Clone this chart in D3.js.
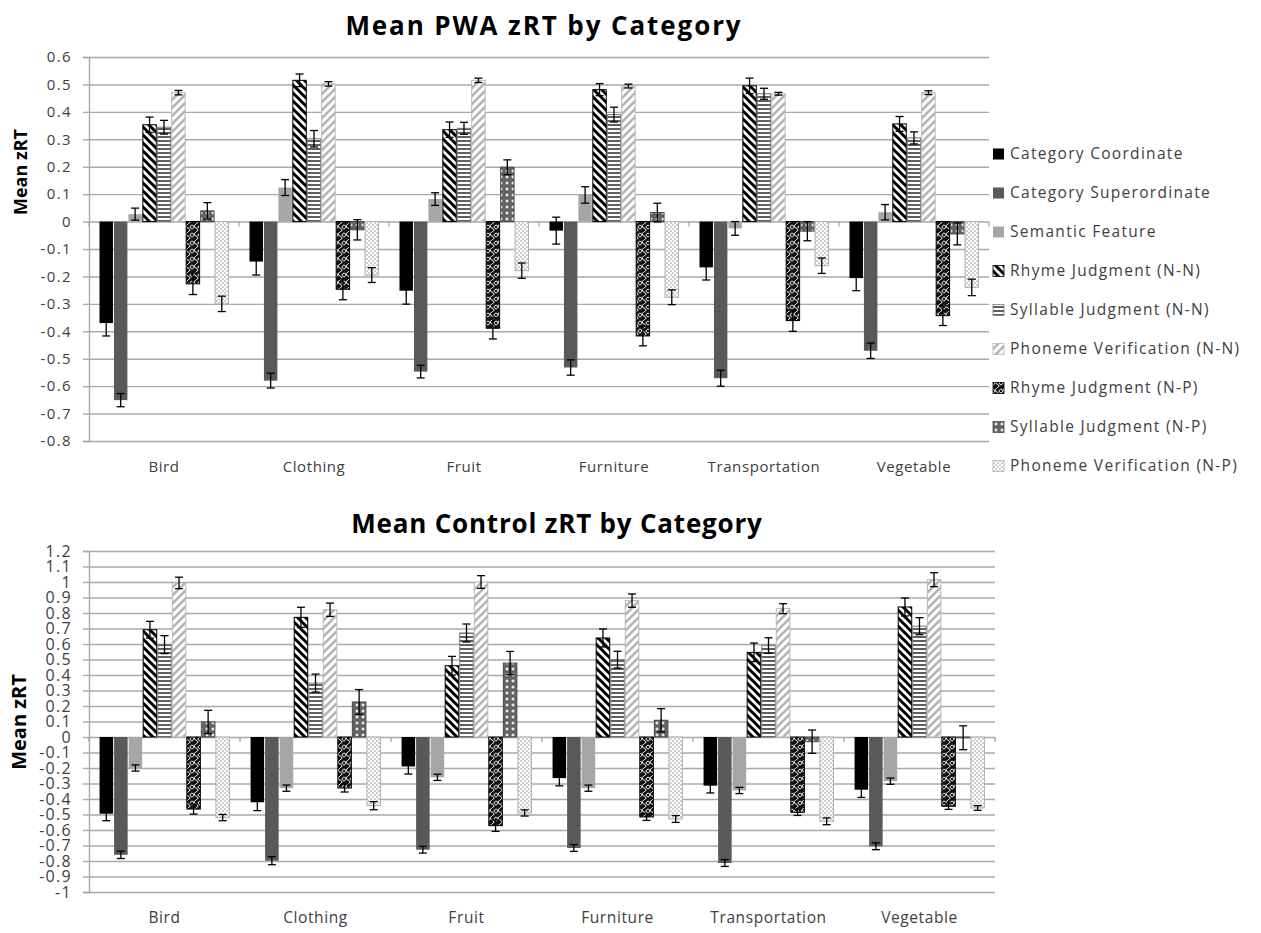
<!DOCTYPE html>
<html>
<head>
<meta charset="utf-8">
<script src="https://cdn.jsdelivr.net/npm/d3@7"></script>
<style>
  html, body { margin: 0; padding: 0; background: #ffffff; }
  svg { display: block; }
  text { font-family: "Open Sans", "Noto Sans", sans-serif; }
</style>
</head>
<body>
<svg id="chart" width="1261" height="933"></svg>
<script>
// Word categories on the x axis
const categories = ["Bird", "Clothing", "Fruit", "Furniture", "Transportation", "Vegetable"];

// Task conditions (one bar per condition within each category)
const seriesNames = [
  "Category Coordinate",
  "Category Superordinate",
  "Semantic Feature",
  "Rhyme Judgment (N-N)",
  "Syllable Judgment (N-N)",
  "Phoneme Verification (N-N)",
  "Rhyme Judgment (N-P)",
  "Syllable Judgment (N-P)",
  "Phoneme Verification (N-P)"
];

// PWA group: mean zRT, rows follow seriesNames, columns follow categories
const pwaMean = [
  [-0.370, -0.146, -0.252, -0.033, -0.167, -0.206],
  [-0.651, -0.580, -0.547, -0.532, -0.571, -0.471],
  [ 0.027,  0.124,  0.082,  0.097, -0.025,  0.034],
  [ 0.353,  0.515,  0.335,  0.481,  0.495,  0.356],
  [ 0.344,  0.302,  0.340,  0.390,  0.466,  0.305],
  [ 0.470,  0.502,  0.515,  0.494,  0.466,  0.470],
  [-0.227, -0.247, -0.389, -0.417, -0.361, -0.343],
  [ 0.039, -0.030,  0.198,  0.033, -0.035, -0.045],
  [-0.300, -0.195, -0.179, -0.276, -0.161, -0.240]
];
// PWA group: standard error of each mean
const pwaErr = [
  [0.047, 0.049, 0.049, 0.049, 0.046, 0.046],
  [0.024, 0.027, 0.023, 0.028, 0.029, 0.028],
  [0.022, 0.029, 0.023, 0.030, 0.025, 0.028],
  [0.028, 0.023, 0.028, 0.022, 0.028, 0.027],
  [0.025, 0.030, 0.022, 0.027, 0.020, 0.022],
  [0.008, 0.008, 0.008, 0.007, 0.005, 0.007],
  [0.039, 0.038, 0.039, 0.036, 0.039, 0.036],
  [0.030, 0.037, 0.027, 0.034, 0.035, 0.040],
  [0.028, 0.027, 0.028, 0.027, 0.028, 0.030]
];

// Control group: mean zRT
const ctrlMean = [
  [-0.495, -0.421, -0.190, -0.265, -0.314, -0.340],
  [-0.760, -0.798, -0.727, -0.716, -0.813, -0.705],
  [-0.200, -0.330, -0.260, -0.330, -0.345, -0.285],
  [ 0.692,  0.772,  0.460,  0.639,  0.546,  0.839],
  [ 0.596,  0.348,  0.671,  0.499,  0.590,  0.715],
  [ 0.994,  0.821,  1.000,  0.880,  0.828,  1.015],
  [-0.465, -0.329, -0.572, -0.516, -0.486, -0.447],
  [ 0.097,  0.226,  0.477,  0.108, -0.030, -0.005],
  [-0.520, -0.443, -0.490, -0.529, -0.544, -0.458]
];
// Control group: standard error of each mean
const ctrlErr = [
  [0.045, 0.054, 0.049, 0.050, 0.047, 0.050],
  [0.024, 0.026, 0.022, 0.022, 0.022, 0.022],
  [0.020, 0.020, 0.020, 0.020, 0.020, 0.020],
  [0.054, 0.065, 0.060, 0.058, 0.060, 0.058],
  [0.058, 0.058, 0.058, 0.054, 0.050, 0.055],
  [0.037, 0.043, 0.041, 0.043, 0.032, 0.045],
  [0.032, 0.026, 0.037, 0.022, 0.020, 0.020],
  [0.075, 0.080, 0.075, 0.075, 0.075, 0.077],
  [0.020, 0.026, 0.020, 0.022, 0.022, 0.015]
];

// Y-axis tick values for each panel
const pwaTicks  = [0.6, 0.5, 0.4, 0.3, 0.2, 0.1, 0, -0.1, -0.2, -0.3, -0.4, -0.5, -0.6, -0.7, -0.8];
const ctrlTicks = [1.2, 1.1, 1, 0.9, 0.8, 0.7, 0.6, 0.5, 0.4, 0.3, 0.2, 0.1, 0,
                   -0.1, -0.2, -0.3, -0.4, -0.5, -0.6, -0.7, -0.8, -0.9, -1];

const svg = d3.select("#chart");
const defs = svg.append("defs");

// ---- fill patterns for the nine conditions ----
function pat(id, w, h, build) {
  const p = defs.append("pattern").attr("id", id)
    .attr("patternUnits", "userSpaceOnUse").attr("width", w).attr("height", h);
  build(p);
}
pat("pRhymeNN", 8, 8, p => {
  p.append("rect").attr("width", 8).attr("height", 8).attr("fill", "#fff");
  p.append("path").attr("d", "M-2,6 L2,10 M0,0 L8,8 M6,-2 L10,2")
    .attr("stroke", "#000").attr("stroke-width", 3);
});
pat("pSyllNN", 4, 4, p => {
  p.append("rect").attr("width", 4).attr("height", 4).attr("fill", "#fff");
  p.append("rect").attr("width", 4).attr("height", 2).attr("fill", "#5f5f5f");
});
pat("pPhonNN", 8, 8, p => {
  p.append("rect").attr("width", 8).attr("height", 8).attr("fill", "#fff");
  p.append("path").attr("d", "M0,8 L8,0 M-2,2 L2,-2 M6,10 L10,6")
    .attr("stroke", "#b4b4b4").attr("stroke-width", 2.6);
});
pat("pRhymeNP", 8, 8, p => {
  p.append("rect").attr("width", 8).attr("height", 8).attr("fill", "#111");
  p.append("path").attr("d", "M0,1 Q4,3 0,5 M8,1 Q4,3 8,5 M4,4 Q8,6 4,8 M4,0 Q0,2 4,4")
    .attr("fill", "none").attr("stroke", "#f0f0f0").attr("stroke-width", 1);
});
pat("pSyllNP", 6, 6, p => {
  p.append("rect").attr("width", 6).attr("height", 6).attr("fill", "#666");
  p.append("circle").attr("cx", 3).attr("cy", 3).attr("r", 2)
    .attr("fill", "#e6e6e6").attr("stroke", "#333").attr("stroke-width", 0.6);
});
pat("pPhonNP", 4, 4, p => {
  p.append("rect").attr("width", 4).attr("height", 4).attr("fill", "#fff");
  p.append("circle").attr("cx", 1).attr("cy", 1).attr("r", 0.85).attr("fill", "#a0a0a0");
  p.append("circle").attr("cx", 3).attr("cy", 3).attr("r", 0.85).attr("fill", "#a0a0a0");
});

// fill + outline for each condition
const seriesStyle = [
  { fill: "#000000",         stroke: "none" },
  { fill: "#595959",         stroke: "none" },
  { fill: "#a6a6a6",         stroke: "none" },
  { fill: "url(#pRhymeNN)",  stroke: "#000000" },
  { fill: "url(#pSyllNN)",   stroke: "#7a7a7a" },
  { fill: "url(#pPhonNN)",   stroke: "#b8b8b8" },
  { fill: "url(#pRhymeNP)",  stroke: "#000000" },
  { fill: "url(#pSyllNP)",   stroke: "#4a4a4a" },
  { fill: "url(#pPhonNP)",   stroke: "#b0b0b0" }
];

const fmt = d => String(+d.toFixed(1));
const gridColor = "#a9a9a9";

function drawPanel(opt) {
  const g = svg.append("g");
  const x = d3.scaleBand().domain(categories)
    .range([opt.left, opt.right]).paddingInner(0.1333).paddingOuter(0.0667);
  const xs = d3.scaleBand().domain(d3.range(seriesNames.length))
    .range([0, x.bandwidth()]);
  const y = d3.scaleLinear().domain(opt.domain).range([opt.bottom, opt.top]);
  const width = opt.right - opt.left;

  // horizontal gridlines
  const grid = g.append("g").attr("transform", `translate(${opt.left},0)`)
    .call(d3.axisLeft(y).tickValues(opt.ticks).tickSize(-width).tickFormat(""));
  grid.select(".domain").remove();
  grid.selectAll("line").attr("stroke", gridColor).attr("stroke-width", 1.4);

  // y axis with labels
  const ya = g.append("g").attr("transform", `translate(${opt.left},0)`)
    .call(d3.axisLeft(y).tickValues(opt.ticks).tickSize(6).tickPadding(opt.tickPad).tickFormat(fmt));
  ya.select(".domain").attr("stroke", gridColor).attr("stroke-width", 1.4);
  ya.selectAll("line").attr("stroke", gridColor).attr("stroke-width", 1.4);
  ya.selectAll("text").attr("fill", "#404040")
    .style("font-size", opt.tickFont + "px").style("letter-spacing", opt.tickLS + "px")
    .style("font-family", "Open Sans");

  // category separator ticks hanging from the zero line
  const bounds = categories.map(c => x(c) - x.step() * x.paddingInner() / 2).concat([opt.right]);
  g.append("g").selectAll("line").data(bounds).join("line")
    .attr("x1", d => d).attr("x2", d => d)
    .attr("y1", y(0)).attr("y2", y(0) + 5)
    .attr("stroke", gridColor).attr("stroke-width", 1.4);

  // bars
  const cells = [];
  opt.mean.forEach((row, si) => row.forEach((v, ci) =>
    cells.push({ si, ci, v, e: opt.err[si][ci] })));
  g.append("g").selectAll("rect").data(cells).join("rect")
    .attr("x", d => x(categories[d.ci]) + xs(d.si) + 0.5)
    .attr("width", xs.bandwidth() - 1)
    .attr("y", d => Math.min(y(d.v), y(0)))
    .attr("height", d => Math.abs(y(d.v) - y(0)))
    .attr("fill", d => seriesStyle[d.si].fill)
    .attr("stroke", d => seriesStyle[d.si].stroke)
    .attr("stroke-width", 1);

  // error bars
  const eb = g.append("g").attr("stroke", "#000").attr("stroke-width", 1.3);
  const cx = d => x(categories[d.ci]) + xs(d.si) + xs.bandwidth() / 2;
  eb.selectAll("line.v").data(cells).join("line").attr("class", "v")
    .attr("x1", cx).attr("x2", cx)
    .attr("y1", d => y(d.v + d.e)).attr("y2", d => y(d.v - d.e));
  eb.selectAll("line.t").data(cells).join("line").attr("class", "t")
    .attr("x1", d => cx(d) - 4).attr("x2", d => cx(d) + 4)
    .attr("y1", d => y(d.v + d.e)).attr("y2", d => y(d.v + d.e));
  eb.selectAll("line.b").data(cells).join("line").attr("class", "b")
    .attr("x1", d => cx(d) - 4).attr("x2", d => cx(d) + 4)
    .attr("y1", d => y(d.v - d.e)).attr("y2", d => y(d.v - d.e));

  // category labels below the plot
  const xa = g.append("g").attr("transform", `translate(0,${opt.bottom})`)
    .call(d3.axisBottom(x).tickSize(0).tickPadding(opt.catPad));
  xa.select(".domain").remove();
  xa.selectAll("text").attr("fill", "#404040")
    .style("font-size", opt.catFont + "px").style("letter-spacing", "0.6px")
    .style("font-family", "Open Sans");

  // titles
  g.append("text").attr("x", opt.titleX).attr("y", opt.titleY)
    .attr("text-anchor", "middle").style("font-weight", "bold")
    .style("font-size", "26px").style("letter-spacing", opt.titleLS + "px")
    .style("font-family", "Open Sans").attr("fill", "#000")
    .text(opt.title);
  g.append("text")
    .attr("transform", `translate(${opt.ytX},${opt.ytY}) rotate(-90)`)
    .attr("text-anchor", "middle").style("font-weight", "bold")
    .style("font-size", opt.ytFont + "px").style("font-family", "Open Sans").attr("fill", "#000")
    .text("Mean zRT");
}

drawPanel({
  title: "Mean PWA zRT by Category", titleX: 544, titleY: 35, titleLS: 1.9,
  mean: pwaMean, err: pwaErr, ticks: pwaTicks, domain: [-0.8, 0.6],
  left: 89, right: 989, top: 57, bottom: 441,
  tickFont: 15, tickLS: 1.4, tickPad: 11, catFont: 15, catPad: 20,
  ytX: 27, ytY: 172, ytFont: 18
});

drawPanel({
  title: "Mean Control zRT by Category", titleX: 557, titleY: 533, titleLS: 0.8,
  mean: ctrlMean, err: ctrlErr, ticks: ctrlTicks, domain: [-1, 1.2],
  left: 89, right: 995, top: 551, bottom: 892,
  tickFont: 16, tickLS: 1.3, tickPad: 11, catFont: 15.5, catPad: 20,
  ytX: 26, ytY: 722, ytFont: 20
});

// legend for the upper panel
const legend = svg.append("g").attr("transform", "translate(993,154)");
const li = legend.selectAll("g").data(seriesNames).join("g")
  .attr("transform", (d, i) => `translate(0,${i * 39})`);
li.append("rect").attr("x", 0).attr("y", -5.5).attr("width", 11).attr("height", 11)
  .attr("fill", (d, i) => seriesStyle[i].fill)
  .attr("stroke", (d, i) => seriesStyle[i].stroke === "none" ? null : seriesStyle[i].stroke)
  .attr("stroke-width", 0.8);
li.append("text").attr("x", 17).attr("y", 0).attr("dy", "0.35em")
  .style("font-size", "15.5px").style("letter-spacing", "1.3px")
  .style("font-family", "Open Sans").attr("fill", "#404040")
  .text(d => d);
</script>
</body>
</html>
